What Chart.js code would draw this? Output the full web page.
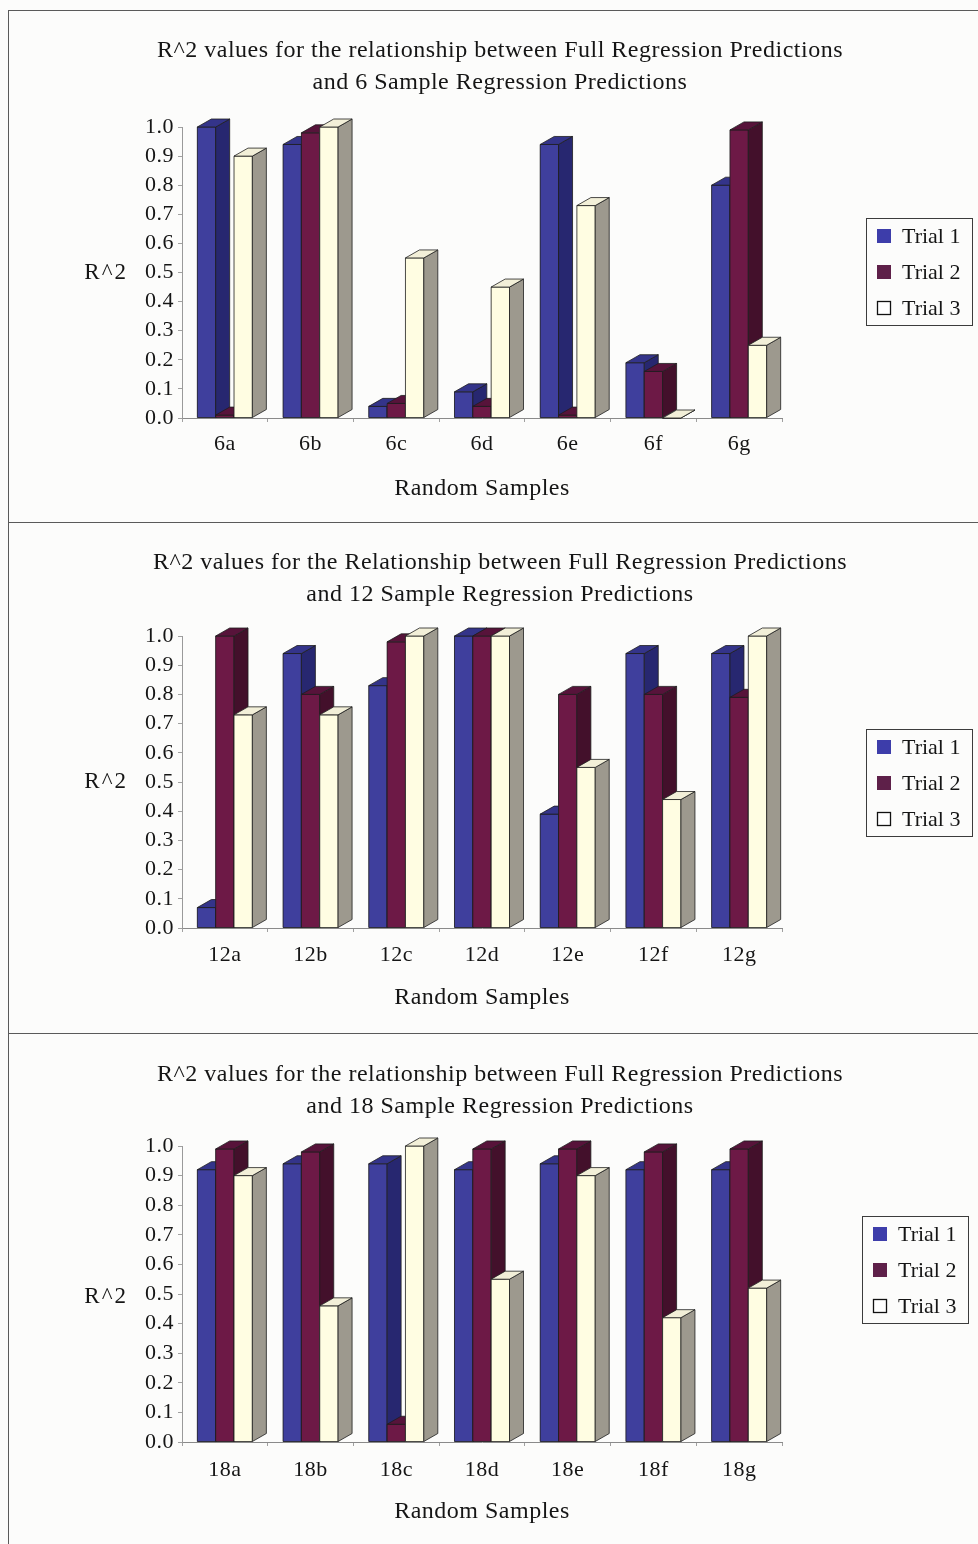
<!DOCTYPE html>
<html>
<head>
<meta charset="utf-8">
<title>R^2 values for Full Regression vs Sample Regression Predictions</title>
<script src="https://cdn.jsdelivr.net/npm/chart.js@4.4.1/dist/chart.umd.min.js"></script>
<style>
  html, body { margin: 0; padding: 0; background: #fcfcfb; }
  body { width: 978px; height: 1544px; position: relative; overflow: hidden; }
  .panel { position: absolute; left: 8px; width: 990px; border-left: 1px solid #5a5a5a; border-top: 1px solid #5a5a5a; }
  .panel canvas { position: absolute; left: 0; top: 0; }
</style>
</head>
<body>
<div class="panel" style="top:10px;height:511px"><canvas id="chart6" width="969" height="511"></canvas></div>
<div class="panel" style="top:522px;height:510px"><canvas id="chart12" width="969" height="511"></canvas></div>
<div class="panel" style="top:1033px;height:511px"><canvas id="chart18" width="969" height="511"></canvas></div>
<script>
// ---- data ----
const trials = ['Trial 1', 'Trial 2', 'Trial 3'];
const yTickValues = [0.0, 0.1, 0.2, 0.3, 0.4, 0.5, 0.6, 0.7, 0.8, 0.9, 1.0];
const yTickLabels = ['0.0', '0.1', '0.2', '0.3', '0.4', '0.5', '0.6', '0.7', '0.8', '0.9', '1.0'];

const samples6 = ['6a', '6b', '6c', '6d', '6e', '6f', '6g'];
const trial1_6 = [1.00, 0.94, 0.04, 0.09, 0.94, 0.19, 0.80];
const trial2_6 = [0.01, 0.98, 0.05, 0.04, 0.01, 0.16, 0.99];
const trial3_6 = [0.90, 1.00, 0.55, 0.45, 0.73, 0.00, 0.25];

const samples12 = ['12a', '12b', '12c', '12d', '12e', '12f', '12g'];
const trial1_12 = [0.07, 0.94, 0.83, 1.00, 0.39, 0.94, 0.94];
const trial2_12 = [1.00, 0.80, 0.98, 1.00, 0.80, 0.80, 0.79];
const trial3_12 = [0.73, 0.73, 1.00, 1.00, 0.55, 0.44, 1.00];

const samples18 = ['18a', '18b', '18c', '18d', '18e', '18f', '18g'];
const trial1_18 = [0.92, 0.94, 0.94, 0.92, 0.94, 0.92, 0.92];
const trial2_18 = [0.99, 0.98, 0.06, 0.99, 0.99, 0.98, 0.99];
const trial3_18 = [0.90, 0.46, 1.00, 0.55, 0.90, 0.42, 0.52];

const title6 = ['R^2 values for the relationship between Full Regression Predictions', 'and 6 Sample Regression Predictions'];
const title12 = ['R^2 values for the Relationship between Full Regression Predictions', 'and 12 Sample Regression Predictions'];
const title18 = ['R^2 values for the relationship between Full Regression Predictions', 'and 18 Sample Regression Predictions'];

// ---- styles ----
const serif = "'Liberation Serif', 'Times New Roman', serif";
const ink = '#151515';
const barFaces = [
  { front: '#3f3f9d', side: '#272770', top: '#34348a', swatch: '#3d3daa', swatchEdge: false },
  { front: '#6d1946', side: '#43102b', top: '#57133a', swatch: '#5e2049', swatchEdge: false },
  { front: '#fffde2', side: '#9d998e', top: '#f2efd8', swatch: '#ffffff', swatchEdge: true }
];

// ---- plugins ----
// slightly open tracking for the library-drawn text (titles and ticks)
const textSpacing = {
  id: 'textSpacing',
  beforeDraw(chart) { chart.ctx.letterSpacing = '0.5px'; },
  afterDraw(chart) { chart.ctx.letterSpacing = '0px'; }
};

// gives each column a right side and a top face, drawn series by series so
// the next column's front covers the previous column's side
const depthFaces = {
  id: 'depthFaces',
  afterDatasetsDraw(chart, args, opts) {
    const { ctx } = chart;
    const { dx, dy } = opts;
    const metas = chart.data.datasets.map((_, i) => chart.getDatasetMeta(i));
    const count = chart.data.labels.length;
    const face = (pts, fill) => {
      ctx.beginPath();
      ctx.moveTo(pts[0][0], pts[0][1]);
      for (let k = 1; k < pts.length; k++) ctx.lineTo(pts[k][0], pts[k][1]);
      ctx.closePath();
      ctx.fillStyle = fill;
      ctx.fill();
      ctx.stroke();
    };
    ctx.save();
    ctx.lineWidth = opts.edgeWidth;
    ctx.strokeStyle = opts.edgeColor;
    ctx.lineJoin = 'miter';
    for (let j = 0; j < count; j++) {
      metas.forEach((meta, i) => {
        const el = meta.data[j];
        if (!el) return;
        const { x, y, base, width } = el.getProps(['x', 'y', 'base', 'width'], true);
        const l = x - width / 2, r = x + width / 2;
        const t = Math.min(y, base);
        const f = barFaces[i];
        face([[l, t], [r, t], [r, base], [l, base]], f.front);
        face([[r, t], [r + dx, t - dy], [r + dx, base - dy], [r, base]], f.side);
        face([[l, t], [l + dx, t - dy], [r + dx, t - dy], [r, t]], f.top);
      });
    }
    ctx.restore();
  }
};

// horizontal value-axis caption to the left of the tick labels
const sideTitle = {
  id: 'sideTitle',
  afterDraw(chart, args, opts) {
    const { ctx, chartArea } = chart;
    ctx.save();
    ctx.letterSpacing = opts.spacing;
    ctx.font = opts.font;
    ctx.fillStyle = ink;
    ctx.textAlign = 'right';
    ctx.textBaseline = 'middle';
    ctx.fillText(opts.text, chartArea.left - opts.gap, (chartArea.top + chartArea.bottom) / 2 + opts.shiftY);
    ctx.restore();
  }
};

// framed series key on the right
const boxedLegend = {
  id: 'boxedLegend',
  afterDraw(chart, args, opts) {
    const { ctx } = chart;
    const { left, midY, rowGap, swatch } = opts;
    const sets = chart.data.datasets;
    const n = sets.length;
    ctx.save();
    ctx.letterSpacing = '0px';
    ctx.strokeStyle = '#3c3c3c';
    ctx.lineWidth = 1;
    ctx.strokeRect(Math.round(left - 11) + 0.5, Math.round(midY - 54) + 0.5, 106, 107);
    ctx.font = opts.font;
    ctx.textAlign = 'left';
    ctx.textBaseline = 'middle';
    sets.forEach((ds, i) => {
      const cy = midY + (i - (n - 1) / 2) * rowGap;
      const f = barFaces[i];
      ctx.fillStyle = f.swatch;
      ctx.fillRect(left, cy - swatch / 2, swatch, swatch);
      if (f.swatchEdge) {
        ctx.strokeStyle = '#111';
        ctx.lineWidth = 1.3;
        ctx.strokeRect(left + 0.5, cy - swatch / 2 + 0.5, swatch - 1, swatch - 1);
      }
      ctx.fillStyle = ink;
      ctx.fillText(ds.label, left + swatch + 11, cy + 1);
    });
    ctx.restore();
  }
};

function makeChart(canvasId, titleLines, labels, series, g) {
  return new Chart(document.getElementById(canvasId), {
    type: 'bar',
    data: {
      labels: labels,
      datasets: series.map((values, i) => ({
        label: trials[i],
        data: values,
        yAxisID: 'y',
        backgroundColor: barFaces[i].front,
        borderWidth: 0,
        categoryPercentage: 0.642,
        barPercentage: 1.0
      }))
    },
    options: {
      responsive: false,
      animation: false,
      devicePixelRatio: 1,
      layout: { padding: { left: 13, right: 0, top: 0, bottom: 0 } },
      scales: {
        x: {
          grid: { display: true, drawOnChartArea: false, drawTicks: true, tickLength: 4, color: '#a0a0a0', offset: true },
          border: { display: true, color: '#8a8a8a', width: 1 },
          ticks: { font: { family: serif, size: 22 }, color: ink, padding: g.xTickPad, maxRotation: 0, autoSkip: false },
          title: { display: true, text: 'Random Samples', font: { family: serif, size: 24 }, color: ink, padding: { top: 0, bottom: g.xTitlePad } },
          afterFit(s) { s.height = g.xHeight; }
        },
        y: {
          min: 0,
          max: 1,
          afterBuildTicks(s) { s.ticks = yTickValues.map(v => ({ value: v })); },
          ticks: { callback: (v, i) => yTickLabels[i], font: { family: serif, size: 22 }, color: ink, padding: 4, autoSkip: false },
          grid: { display: true, drawOnChartArea: false, drawTicks: true, tickLength: 4, color: '#a0a0a0' },
          border: { display: true, color: '#9a9a9a', width: 1 },
          afterFit(s) { s.width = 160; }
        },
        yPad: {
          type: 'linear',
          position: 'right',
          display: true,
          grid: { display: false },
          border: { display: false },
          ticks: { display: false },
          afterFit(s) { s.width = 196; }
        }
      },
      plugins: {
        legend: { display: false },
        tooltip: { enabled: false },
        title: {
          display: true,
          text: titleLines,
          font: { family: serif, size: 24, weight: 'normal', lineHeight: '32px' },
          color: ink,
          padding: g.titlePad
        },
        depthFaces: { dx: 14, dy: 8, edgeColor: '#1e1e1e', edgeWidth: 0.8 },
        sideTitle: { text: 'R^2', gap: 54, shiftY: g.sideShift, font: `23px ${serif}`, spacing: '2px' },
        boxedLegend: { left: g.legendLeft, midY: g.legendMidY, rowGap: 36, swatch: 14, font: `22px ${serif}` }
      }
    },
    plugins: [textSpacing, depthFaces, sideTitle, boxedLegend]
  });
}

makeChart('chart6', title6, samples6, [trial1_6, trial2_6, trial3_6], {
  titlePad: { top: 24, bottom: 28 }, xHeight: 104, xTickPad: 9, xTitlePad: 18.6,
  legendLeft: 868, legendMidY: 261, sideShift: 0
});
makeChart('chart12', title12, samples12, [trial1_12, trial2_12, trial3_12], {
  titlePad: { top: 24, bottom: 25 }, xHeight: 106, xTickPad: 10, xTitlePad: 21.6,
  legendLeft: 868, legendMidY: 260, sideShift: 0
});
makeChart('chart18', title18, samples18, [trial1_18, trial2_18, trial3_18], {
  titlePad: { top: 25, bottom: 23 }, xHeight: 103, xTickPad: 11, xTitlePad: 18.6,
  legendLeft: 864, legendMidY: 236, sideShift: 3
});
</script>
</body>
</html>
